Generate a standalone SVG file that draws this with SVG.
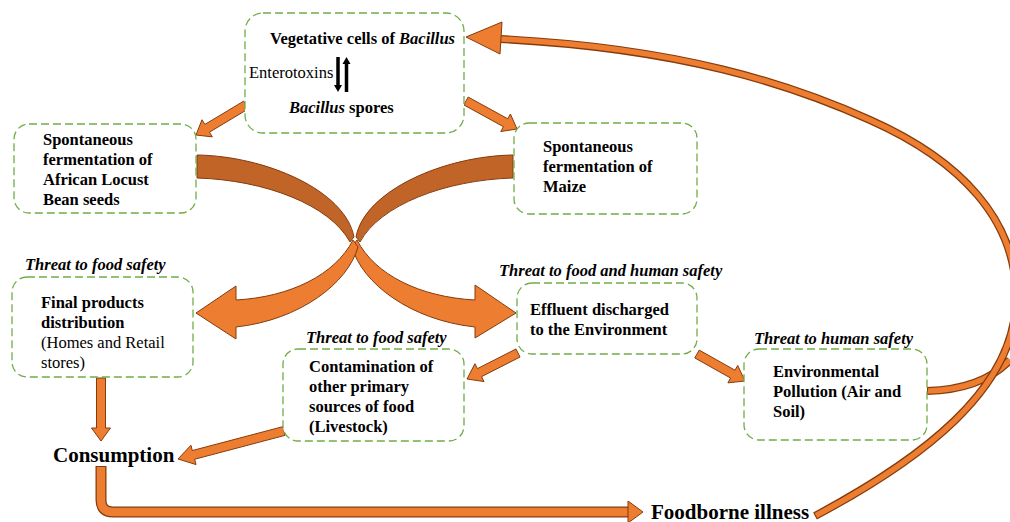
<svg xmlns="http://www.w3.org/2000/svg" width="1010" height="522" viewBox="0 0 1010 522">
<style>
.box{fill:#fff;stroke:#70AD47;stroke-width:1.3;stroke-dasharray:8 4}
.t{font-family:"Liberation Serif","Times New Roman",serif;font-size:16.5px;fill:#000}
.b{font-weight:bold}
.bi{font-weight:bold;font-style:italic}
.big{font-family:"Liberation Serif","Times New Roman",serif;font-size:21px;font-weight:bold;fill:#000}
.arr{fill:#ED7D31;stroke:#843C0C;stroke-width:1;stroke-linejoin:miter}
.dark{fill:#C06428;stroke:#843C0C;stroke-width:1}
.lineO{fill:none;stroke:#843C0C}
.lineI{fill:none;stroke:#ED7D31}
</style>
<rect width="1010" height="522" fill="#fff"/>

<g id="connectors">
  <!-- big crossing ribbons -->
  <path class="dark" d="M197,155 C265,156 345,190 354,237 L350,242 C330,205 265,180 197,178 Z"/>
  <path class="dark" d="M513,155 C445,156 365,190 356,237 L360,242 C380,205 445,180 513,178 Z"/>
  <path class="arr" d="M357,240 C375,275 420,297 475,300 L475,285 L516,313 L475,338 L475,327 C410,320 362,283 352,247 Z"/>
  <path class="arr" d="M353,240 C335,275 290,297 236,300 L236,286 L196,313 L236,339 L236,327 C300,320 348,283 358,247 Z"/>
  <!-- top -> left -->
  <polygon class="arr" points="243.68,101.14 204.83,124.45 202,119.74 196,135 212.3,136.9 209.47,132.17 248.32,108.86"/>
  <!-- top -> maize -->
  <polygon class="arr" points="463.83,104.94 503.43,126.68 500.79,131.51 517,129 510.41,113.97 507.77,118.8 468.17,97.06"/>
  <!-- final -> consumption -->
  <polygon class="arr" points="96.5,378 96.5,428 91.5,428 101,441 110.5,428 105.5,428 105.5,378"/>
  <!-- contamination -> consumption -->
  <polygon class="arr" points="282.85,426.65 192.32,450.56 190.92,445.24 178,459 196.03,464.58 194.62,459.26 285.15,435.35"/>
  <!-- effluent -> contamination -->
  <polygon class="arr" points="515.96,348.99 477.43,368.63 474.93,363.73 467,379 484.01,381.55 481.51,376.65 520.04,357.01"/>
  <!-- effluent -> environmental -->
  <polygon class="arr" points="694.79,357.92 730.59,378.06 727.9,382.86 745,381 737.7,365.42 735.01,370.22 699.21,350.08"/>
  <!-- consumption -> foodborne -->
  <path class="lineO" stroke-width="11" d="M101,466 V500 Q101,512 113,512 H630"/>
  <path class="lineI" stroke-width="8.5" d="M101,467 V500 Q101,512 113,512 H631"/>
  <polygon class="arr" points="628,501 643,512 628,523"/>
  <!-- environmental -> loop -->
  <path class="lineO" stroke-width="8" d="M927,391 C960,390 990,381 1010,360"/>
  <path class="lineI" stroke-width="5.5" d="M928,391 C960,390 990,381 1010,360"/>
  <!-- foodborne -> top (long arc) -->
  <path class="lineO" stroke-width="8" d="M815,516 C920,460 1015,390 1016,300 C1018,220 960,160 870,120 C790,84 680,48 500,39"/>
  <path class="lineI" stroke-width="5.5" d="M816,515.5 C920,460 1015,390 1016,300 C1018,220 960,160 870,120 C790,84 680,48 501,39"/>
  <polygon class="arr" points="502,22 466,37 500,54"/>
</g>

<g id="node-bacillus">
  <rect class="box" x="245" y="13" width="219" height="120" rx="18"/>
  <text class="t b" x="270" y="44">Vegetative cells of <tspan class="bi">Bacillus</tspan></text>
  <text class="t" x="249" y="78">Enterotoxins</text>
  <line x1="338" y1="57" x2="338" y2="86" stroke="#000" stroke-width="3.5"/>
  <polygon points="334,85 342,85 338,92" fill="#000"/>
  <line x1="346.5" y1="63" x2="346.5" y2="92" stroke="#000" stroke-width="3.5"/>
  <polygon points="342.5,64 350.5,64 346.5,57" fill="#000"/>
  <text class="t b" x="289" y="113"><tspan class="bi">Bacillus</tspan> spores</text>
</g>

<g id="node-locust">
  <rect class="box" x="14" y="124" width="182" height="89" rx="15"/>
  <text class="t b" x="43" y="145">Spontaneous</text>
  <text class="t b" x="43" y="165">fermentation of</text>
  <text class="t b" x="43" y="185">African Locust</text>
  <text class="t b" x="43" y="205">Bean seeds</text>
</g>

<g id="node-maize">
  <rect class="box" x="514" y="123" width="183" height="91" rx="15"/>
  <text class="t b" x="543" y="152">Spontaneous</text>
  <text class="t b" x="543" y="172">fermentation of</text>
  <text class="t b" x="543" y="192">Maize</text>
</g>

<g id="node-final">
  <text class="t bi" x="25" y="270">Threat to food safety</text>
  <rect class="box" x="12" y="277" width="181" height="100" rx="15"/>
  <text class="t b" x="41" y="308">Final products</text>
  <text class="t b" x="41" y="328">distribution</text>
  <text class="t" x="41" y="348">(Homes and Retail</text>
  <text class="t" x="41" y="368">stores)</text>
</g>

<g id="node-effluent">
  <text class="t bi" x="499" y="276">Threat to food and human safety</text>
  <rect class="box" x="517" y="283" width="180" height="71" rx="15"/>
  <text class="t b" x="530" y="315">Effluent discharged</text>
  <text class="t b" x="530" y="335">to the Environment</text>
</g>

<g id="node-contamination">
  <text class="t bi" x="306" y="343">Threat to food safety</text>
  <rect class="box" x="283" y="349" width="181" height="92" rx="15"/>
  <text class="t b" x="309" y="372">Contamination of</text>
  <text class="t b" x="309" y="392">other primary</text>
  <text class="t b" x="309" y="412">sources of food</text>
  <text class="t b" x="309" y="432">(Livestock)</text>
</g>

<g id="node-environmental">
  <text class="t bi" x="754" y="344">Threat to human safety</text>
  <rect class="box" x="744" y="349" width="183" height="91" rx="15"/>
  <text class="t b" x="773" y="377">Environmental</text>
  <text class="t b" x="773" y="397">Pollution (Air and</text>
  <text class="t b" x="773" y="417">Soil)</text>
</g>

<g id="node-consumption">
  <text class="big" x="53" y="462">Consumption</text>
</g>

<g id="node-foodborne">
  <text class="big" x="651" y="519">Foodborne illness</text>
</g>
</svg>
